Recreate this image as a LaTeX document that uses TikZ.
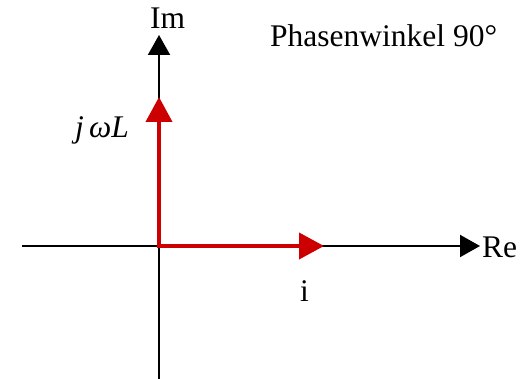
\documentclass[tikz,border=0pt]{standalone}
\usepackage{fontspec}
\setmainfont{Liberation Serif}
\usetikzlibrary{arrows.meta}
\definecolor{vecred}{RGB}{204,0,0}
\begin{document}
\begin{tikzpicture}[x=1pt,y=-1pt,
  axis/.style={line width=2pt, draw=black, -{Triangle[length=20pt,width=22pt]}},
  vec/.style={line width=4pt, draw=vecred, line cap=rect, -{Triangle[length=25pt,width=26pt]}},
  lbl/.style={inner sep=0pt, font=\fontsize{31.5}{36}\selectfont}]
\useasboundingbox (0,0) rectangle (520,379);
\coordinate (O) at (159,246);
\coordinate (ybot) at (159,379);
\coordinate (ytop) at (159,35);
\coordinate (xl) at (22,246);
\coordinate (xr) at (480,246);
\coordinate (vtip) at (159,97);
\coordinate (htip) at (324,246);
\draw[axis] (ybot) -- (ytop);
\draw[axis] (xl) -- (xr);
\draw[vec] (O) -- (vtip);
\draw[vec] (O) -- (htip);
\node[lbl, anchor=base west] (im) at (150,29) {Im};
\node[lbl, anchor=base west] (re) at (482,258) {Re};
\node[lbl, anchor=base west] (title) at (270,47) {Phasenwinkel 90°};
\node[lbl, anchor=base west] (jwl) at (75,138) {\itshape j\,ωL};
\node[lbl, anchor=base west] (i) at (300,302) {i};
\end{tikzpicture}
\end{document}
